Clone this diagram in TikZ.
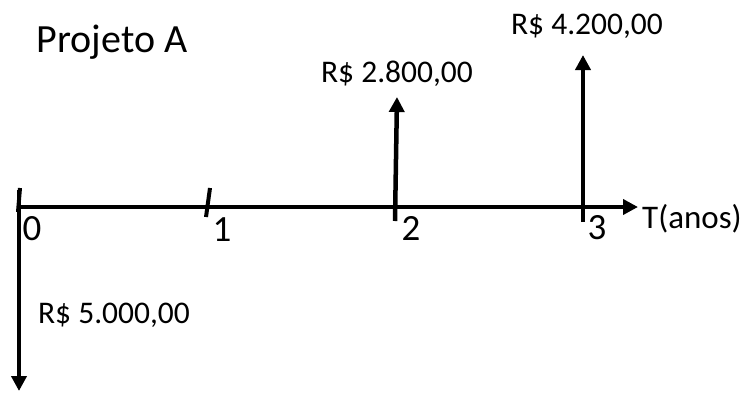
\documentclass[tikz,border=0pt]{standalone}
\usepackage{fontspec}
\setmainfont{Carlito}
\usetikzlibrary{arrows.meta}

\tikzset{
  fluxo/.style={line width=4.5pt, -{Triangle[width=15pt,length=15pt]}},
  marca/.style={line width=4pt},
  valor/.style={font=\fontsize{31.5}{38}\selectfont, inner sep=0pt},
  ano/.style={font=\fontsize{33}{40}\selectfont, inner sep=0pt},
  numero/.style={font=\fontsize{37}{44}\selectfont, inner sep=0pt},
}

\begin{document}
\begin{tikzpicture}[x=1pt,y=-1pt]
\useasboundingbox (0,0) rectangle (750,392);
\node[font=\fontsize{40}{48}\selectfont, inner sep=0pt] (titulo) at (112,42) {Projeto A};

% eixo do tempo
\coordinate (inicio) at (17,207);
\coordinate (fim) at (638,207);
\draw[fluxo] (inicio) -- (fim);
\node[ano, anchor=west] (tanos) at (642,219) {T(anos)};

% marcas dos anos
\coordinate (m0a) at (20,188); \coordinate (m0b) at (18,212);
\coordinate (m1a) at (210,188); \coordinate (m1b) at (206,217);
\coordinate (m2b) at (395,221);
\coordinate (m3b) at (583,222);
\draw[marca] (m0a) -- (m0b);
\draw[marca] (m1a) -- (m1b);
\node[numero] (a0) at (32,229) {0};
\node[numero] (a1) at (222,230) {1};
\node[numero] (a2) at (411,228) {2};
\node[numero] (a3) at (597,228) {3};

% fluxos de caixa
\coordinate (p0) at (19,190);
\coordinate (s0) at (19,391);
\coordinate (s2) at (397,97);
\coordinate (s3) at (583,55);
\draw[fluxo] (p0) -- (s0);
\draw[fluxo] (m2b) -- (s2);
\draw[fluxo] (m3b) -- (s3);
\node[valor] (v0) at (114,315) {R\$ 5.000,00};
\node[valor] (v2) at (397,74) {R\$ 2.800,00};
\node[valor] (v3) at (587,26) {R\$ 4.200,00};
\end{tikzpicture}
\end{document}
